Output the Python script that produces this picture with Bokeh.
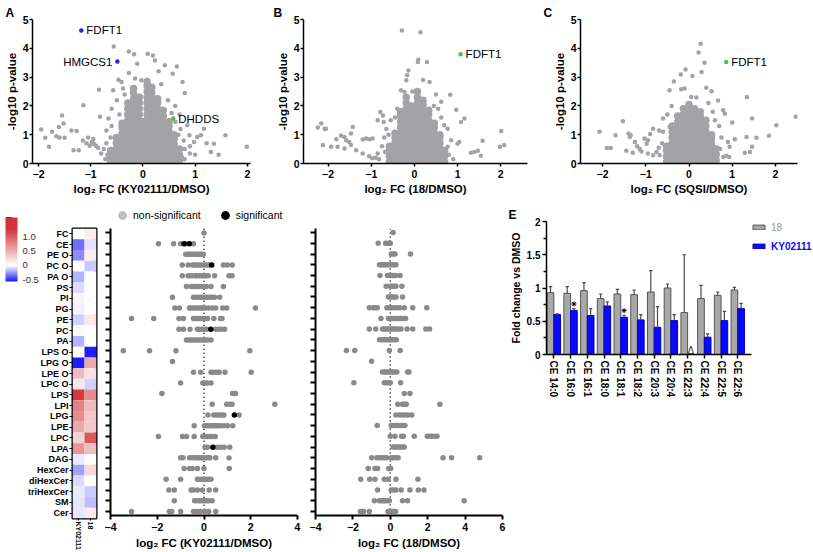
from bokeh.plotting import figure
from bokeh.models import (Range1d, FixedTicker, Legend, LegendItem, ColorBar, Title,
                          LinearColorMapper, FactorRange, ColumnDataSource,
                          CustomJSTickFormatter)
from bokeh.layouts import row, column
from bokeh.transform import dodge, transform
from bokeh.embed import file_html
from bokeh.resources import INLINE
from bokeh.core.properties import value

NAN = float("nan")

# ---------------- DATA ----------------
A_core = [
    (-0.62, [0.05, 0.25, 0.45]),
    (-0.51, [0.1, 0.3, 0.5, 0.7, 0.9]),
    (-0.40, [0.05, 0.25, 0.45, 0.65, 0.85, 1.05, 1.25, 1.4]),
    (-0.29, [0.1, 0.3, 0.5, 0.7, 0.9, 1.1, 1.3, 1.5, 1.7, 1.9, 2.1]),
    (-0.18, [0.05, 0.25, 0.45, 0.65, 0.85, 1.05, 1.25, 1.45, 1.65, 1.85, 2.05, 2.25, 2.45, 2.6]),
    (-0.07, [0.1, 0.3, 0.5, 0.7, 0.9, 1.1, 1.3, 1.5, 1.7, 1.9, 2.1, 2.3]),
    (0.01, [0.05, 0.25, 0.45, 0.65, 0.85, 1.05, 1.25, 1.45]),
    (0.08, [0.1, 0.3, 0.5, 0.7, 0.9, 1.1, 1.3, 1.5, 1.7, 1.9, 2.1, 2.3, 2.5, 2.7, 2.85]),
    (0.17, [0.05, 0.25, 0.45, 0.65, 0.85, 1.05, 1.25, 1.45, 1.65, 1.85, 2.05, 2.25, 2.45, 2.65]),
    (0.28, [0.1, 0.3, 0.5, 0.7, 0.9, 1.1, 1.3, 1.5, 1.7, 1.9, 2.1, 2.25]),
    (0.39, [0.05, 0.25, 0.45, 0.65, 0.85, 1.05, 1.25, 1.45, 1.65, 1.85]),
    (0.50, [0.1, 0.3, 0.5, 0.7, 0.9, 1.1, 1.3, 1.45]),
    (0.60, [0.05, 0.25, 0.45, 0.65, 0.85, 1.0]),
    (0.70, [0.1, 0.3, 0.5]),
]
A_out_x = [-1.95, -1.87, -1.8, -1.74, -1.66, -1.61, -1.55, -1.52, -1.6, -1.5, -1.37, -1.27, -1.33, -1.23,
           -1.14, -1.15, -1.08, -1.02, -0.98, -0.94, -0.9, -0.86, -0.95, -1.05, -0.84, -0.82, -0.7, -0.66,
           -0.75, -0.8, -0.7, -0.68, -0.62, -0.6, -0.57, -0.56, -0.6, -0.5, -0.47, -0.41, -0.45, -0.35,
           -0.27, -0.27, -0.17, -0.11, -0.15, -0.03, -0.38, -0.72, -0.66,
           0.09, 0.19, 0.23, 0.42, 0.65, 0.57, 0.76, 0.8, 0.3, 0.35, 0.48, 0.62, 0.7, 0.72, 0.85, 0.89,
           0.98, 1.04, 1.11, 1.17, 1.3, 1.36, 1.58, 1.99, 0.8, 0.9, 1.0, 0.78, 0.68, 0.75, 1.22, 1.45,
           0.62, 0.55, 0.8, 0.9]
A_out_y = [1.18, 0.89, 0.58, 1.1, 0.95, 1.27, 1.67, 1.39, 0.9, 0.89, 1.15, 1.13, 0.46, 0.46,
           2.02, 0.8, 0.7, 0.62, 0.75, 0.68, 0.62, 0.55, 0.85, 0.9, 2.56, 1.62, 1.15, 1.56,
           0.5, 0.35, 0.7, 0.3, 0.9, 1.3, 2.54, 4.06, 1.9, 2.2, 2.91, 2.83, 1.7, 2.4,
           3.89, 3.14, 3.79, 3.46, 2.95, 2.89, 2.6, 0.15, 0.2,
           3.81, 3.75, 3.58, 3.41, 3.37, 3.12, 2.83, 2.45, 3.2, 2.75, 2.2, 2.0, 1.7, 1.2, 1.33, 0.98,
           0.75, 0.92, 0.98, 1.21, 0.4, 0.69, 0.98, 0.58, 0.5, 0.35, 0.3, 0.8, 1.0, 0.2, 0.7, 0.3,
           1.45, 1.75, 0.15, 0.6]
A_hl_x = [-1.18, -0.49, 0.58]
A_hl_y = [4.62, 3.54, 1.56]
A_hl_name = ["FDFT1", "HMGCS1", "DHDDS"]
A_hl_color = ["#1F1FFF", "#1F1FFF", "#4CC04C"]
A_hl_side = ["right", "left", "right"]

B_core = [
    (-0.58, [0.05, 0.25, 0.45, 0.6]),
    (-0.45, [0.1, 0.3, 0.5, 0.7, 0.9, 1.05]),
    (-0.32, [0.05, 0.25, 0.45, 0.65, 0.85, 1.05, 1.25, 1.45, 1.65, 1.8]),
    (-0.19, [0.1, 0.3, 0.5, 0.7, 0.9, 1.1, 1.3, 1.5, 1.7, 1.9, 2.1, 2.3]),
    (-0.06, [0.05, 0.25, 0.45, 0.65, 0.85, 1.05, 1.25, 1.45, 1.65, 1.85, 2.0]),
    (0.07, [0.1, 0.3, 0.5, 0.7, 0.9, 1.1, 1.3, 1.5, 1.7, 1.9, 2.1, 2.3, 2.5]),
    (0.20, [0.05, 0.25, 0.45, 0.65, 0.85, 1.05, 1.25, 1.45, 1.65, 1.85, 2.05, 2.2]),
    (0.33, [0.1, 0.3, 0.5, 0.7, 0.9, 1.1, 1.3, 1.5, 1.7, 1.85]),
    (0.46, [0.05, 0.25, 0.45, 0.65, 0.85, 1.05, 1.25, 1.4]),
    (0.59, [0.1, 0.3, 0.5, 0.7, 0.9, 1.0]),
    (0.70, [0.05, 0.25, 0.45]),
]
B_out_x = [-0.29, 0.14, 0.09, 0.08, 0.29, -0.14, -0.17, -0.19, 0.35, -0.31, -0.23, 0.83, 0.97, 1.16,
           1.08, 2.01, 2.08, 1.98, 1.58, 1.39, 1.47, 1.31, 1.54, 1.04, 1.0, 0.85, 0.77,
           -2.24, -2.16, -2.08, -2.05, -2.12, -1.93, -1.81, -1.7, -1.62, -1.58, -1.43, -1.47, -1.51,
           -1.78, -1.62, -1.47, -1.35, -1.2, -1.12, -1.04, -0.97, -1.2, -1.05, -0.98, -0.9, -0.82,
           -0.85, -0.85, -0.79, -0.73, -0.71, -0.65, -0.7, -0.75, -0.68, -0.6, -0.55, -0.45, -0.4,
           0.55, 0.62, 0.69, 0.77, 0.62, 0.45, 0.8, 0.9, 0.2, -0.05, 0.5]
B_out_y = [4.62, 4.56, 3.6, 3.52, 3.52, 3.23, 3.06, 2.89, 2.83, 2.54, 2.48, 2.39, 1.87, 1.56,
           1.44, 1.13, 0.64, 0.58, 0.79, 0.4, 0.44, 0.37, 0.27, 0.75, 0.69, 0.81, 0.58,
           1.25, 1.39, 1.21, 1.21, 0.64, 0.58, 0.84, 0.96, 0.92, 0.81, 1.27, 1.04, 0.75,
           0.58, 0.52, 0.64, 0.46, 0.83, 0.87, 0.84, 0.87, 0.35, 0.25, 0.18, 0.2, 0.15,
           0.35, 1.5, 1.79, 1.67, 1.44, 1.2, 0.9, 0.6, 0.4, 1.0, 1.5, 1.6, 1.9,
           1.9, 1.6, 1.33, 1.21, 2.14, 2.0, 0.3, 0.15, 2.9, 2.5, 2.4]
B_hl_x = [1.07]
B_hl_y = [3.79]
B_hl_name = ["FDFT1"]
B_hl_color = ["#4CC04C"]
B_hl_side = ["right"]

C_core = [
    (-0.52, [0.05, 0.25, 0.45, 0.6]),
    (-0.39, [0.1, 0.3, 0.5, 0.7, 0.9, 1.1, 1.3]),
    (-0.26, [0.05, 0.25, 0.45, 0.65, 0.85, 1.05, 1.25, 1.45, 1.65]),
    (-0.13, [0.1, 0.3, 0.5, 0.7, 0.9, 1.1, 1.3, 1.5, 1.7, 1.9]),
    (0.0, [0.05, 0.25, 0.45, 0.65, 0.85, 1.05, 1.25, 1.45, 1.65, 1.85, 2.05]),
    (0.13, [0.1, 0.3, 0.5, 0.7, 0.9, 1.1, 1.3, 1.5, 1.7, 1.9]),
    (0.26, [0.05, 0.25, 0.45, 0.65, 0.85, 1.05, 1.25, 1.45, 1.65, 1.8]),
    (0.39, [0.1, 0.3, 0.5, 0.7, 0.9, 1.1, 1.3, 1.5]),
    (0.52, [0.05, 0.25, 0.45, 0.65, 0.85, 1.0]),
    (0.63, [0.1, 0.3, 0.5]),
]
C_out_x = [0.27, 0.22, 0.36, -0.08, -0.19, 0.08, 0.29, -0.35, -0.45, -0.18, -0.1, 0.4, 0.52, 0.05,
           0.17, 0.67, 1.34, 0.79, 0.83, 1.46, 1.0, 2.47, 2.02, 1.85, 1.56, 1.33, 1.06, 1.46, 1.29,
           1.41, 0.9, 0.94, 0.86, 0.93, 0.79,
           -2.07, -1.9, -1.81, -1.7, -1.53, -1.4, -1.35, -1.37, -1.45, -1.3, -1.25, -1.2, -1.14,
           -1.1, -1.03, -0.95, -0.98, -0.95, -0.83, -0.75, -0.68, -0.9, -0.83, -0.69, -0.6, -0.6,
           -0.45, -0.37, -0.62, -0.7, 0.7, 0.75, 0.72, 0.6, 0.55, -0.5, -0.4, 0.45]
C_out_y = [4.16, 3.85, 3.5, 3.26, 3.09, 3.04, 3.18, 2.85, 2.54, 2.58, 2.6, 2.63, 2.51, 2.31,
           2.29, 2.19, 2.31, 1.85, 1.73, 1.56, 1.42, 1.62, 1.33, 0.96, 0.89, 0.92, 0.84, 0.58, 0.37,
           0.4, 0.75, 0.58, 0.27, 0.23, 0.23,
           1.1, 0.54, 0.54, 0.98, 1.47, 1.04, 0.98, 0.92, 0.44, 0.37, 0.75, 0.6, 0.5,
           0.42, 0.87, 0.81, 0.69, 0.35, 0.29, 0.4, 0.29, 1.02, 1.21, 1.15, 1.1, 1.56,
           1.27, 1.21, 0.7, 0.55, 1.3, 0.9, 0.5, 1.5, 1.8, 1.7, 2.0, 2.1]
C_hl_x = [0.86]
C_hl_y = [3.52]
C_hl_name = ["FDFT1"]
C_hl_color = ["#4CC04C"]
C_hl_side = ["right"]

classes = ["FC", "CE", "PE O", "PC O", "PA O", "PS", "PI", "PG", "PE", "PC", "PA",
           "LPS O", "LPG O", "LPE O", "LPC O", "LPS", "LPI", "LPG", "LPE", "LPC", "LPA",
           "DAG", "HexCer", "diHexCer", "triHexCer", "SM", "Cer"]
heat_cols = ["KY02111", "18"]
heat_ky = [0.0, -0.35, -0.28, 0.0, -0.18, -0.085, 0.06, -0.03, -0.11, 0.05, -0.18, 0.0, -0.55, 0.44,
           0.15, 1.25, 0.79, 0.73, 0.54, 0.29, 0.67, -0.05, -0.23, -0.1, -0.05, -0.06, -0.06]
heat_18 = [0.12, -0.07, 0.1, -0.13, 0.0, 0.0, 0.02, 0.0, 0.16, 0.03, 0.0, -0.55, 0.54, 0.2,
           -0.11, 0.73, 0.44, 0.35, 0.35, 1.05, 0.41, 0.03, 0.25, 0.0, -0.13, -0.16, 0.13]

ky_nonsig = [
    [0.0],
    [-1.95, -1.3, -1.0, -0.75, -0.45],
    [-0.78, -0.7, -0.62, -0.55, -0.48, -0.4, -0.33, -0.25, -0.18, -0.1, -0.03],
    [-0.93, -0.68, -0.5, -0.42, -0.35, -0.25, -0.15, -0.05, 0.05, 0.15, 0.25, 0.83, 1.0, 1.21],
    [-0.93, -0.68, -0.6, -0.5, -0.38, -0.3, -0.2, -0.1, 0.0, 0.08, 0.18, 0.45, 1.07, 1.2],
    [-0.75, -0.55, -0.48, -0.4, -0.3, -0.2, -0.1, 0.0, 0.1, 0.3, 0.83],
    [-1.35, -0.45, -0.35, -0.25, -0.15, -0.05, 0.05, 0.15, 0.25, 0.35, 0.45, 0.67],
    [-1.25, -1.05, -0.62, -0.55, -0.45, -0.35, -0.25, -0.15, -0.05, 0.05, 0.2, 0.35, 0.5, 0.8, 0.97, 2.2],
    [-3.1, -2.15, -1.07, -0.88, -0.45, -0.38, -0.3, -0.22, -0.15, -0.05, 0.05, 0.15, 0.42, 0.7, 0.77],
    [-1.07, -0.88, -0.6, -0.28, -0.2, -0.1, 0.0, 0.1, 0.5, 0.62, 0.72, 0.88],
    [-0.75, -0.65, -0.55, -0.45, -0.35, -0.25, -0.15, -0.05, 0.05, 0.15, 0.3],
    [-3.45, -2.33, -1.2, 1.96],
    [-1.35],
    [-0.45, -0.14, 0.3, 0.4, 0.52, 0.65, 0.9, 2.02],
    [-1.0, -0.05, 0.05, 0.15, 0.3],
    [-1.8, 1.22, 1.28, 1.35],
    [0.35, 0.97, 1.1, 1.2, 3.03],
    [0.17, 0.42, 0.52, 0.65, 0.75, 0.85, 1.5],
    [-0.42, 0.02, 0.1, 0.2, 0.3, 0.4, 0.5, 0.6, 0.7, 0.85, 1.0, 1.23],
    [-1.95, -0.92, -0.75, -0.42, -0.05, 0.05, 0.15, 0.25, 0.35, 0.48],
    [0.05, 0.15, 0.55, 0.7, 0.86, 1.1],
    [-1.0, -0.9, -0.62, -0.5, -0.38, -0.28, -0.2, -0.12, -0.05, 0.05, 0.15, 0.25, 0.5, 1.07],
    [-0.85, -0.62, -0.5, -0.28, 0.0, 1.08],
    [-1.62, -1.0, -0.28, -0.2, -0.1, 0.0, 0.1, 0.2, 0.3],
    [-1.5, -1.27, -0.55, -0.45, -0.28, -0.07, 0.22, 0.5],
    [-1.27, -0.4, -0.3, -0.2, -0.1, 0.0, 0.1, 0.2, 0.35],
    [-3.1, -1.48, -1.38, -1.0, -0.45, -0.35, -0.25, -0.15, 0.05, 0.2, 0.5],
]
ky_sig = [[], [-0.85, -0.62], [], [0.33], [], [], [], [], [], [0.29], [], [], [], [], [], [], [],
          [1.3], [], [], [0.38], [], [], [], [], [], []]

t18_nonsig = [
    [0.15],
    [-0.65, -0.25, -0.15, -0.05, 0.0],
    [0.05, 0.15, 0.25, 1.08],
    [-0.58, -0.5, -0.4, -0.3, -0.2, -0.1, 0.0, 0.1, 0.2, 0.3],
    [-0.55, -0.15, -0.05, 0.05, 0.15, 0.28, 0.52],
    [-0.22, 0.0, 0.1, 0.2, 0.3, 0.62],
    [-0.1, 0.0, 0.1, 0.2, 0.3, 0.65],
    [-1.12, -0.92, -0.8, -0.7, -0.18, -0.05, 0.05, 0.2, 0.35, 0.5, 0.75, 1.2, 1.95],
    [-0.5, -0.1, 0.0, 0.1, 0.2, 0.3, 0.4, 0.5, 0.6, 0.7, 0.82],
    [-1.12, -0.78, -0.42, -0.32, -0.22, -0.12, 0.0, 0.1, 0.2, 0.3, 0.45, 0.57, 0.9, 1.2, 1.9, 2.1],
    [-0.58, -0.48, -0.38, -0.28, -0.18, -0.08, 0.02, 0.12, 0.22, 0.32],
    [-2.35, -1.9, -0.05, 0.53],
    [-1.0],
    [-0.42, -0.3, -0.2, -0.08, 0.02, 0.12, 0.22, 0.35, 0.93, 1.0],
    [-1.95, -0.32, -0.2, -0.1, 0.0, 0.55],
    [0.75, 1.05],
    [0.4, 0.65, 0.75, 0.85, 2.65],
    [0.3, 0.5, 0.65, 0.8, 0.95, 1.15],
    [-0.7, 0.05, 0.15, 0.25, 0.35, 0.45, 0.55, 0.65, 0.78],
    [0.0, 0.25, 0.6, 0.7, 1.28, 1.98, 2.1, 2.2, 2.35, 2.5],
    [0.15, 0.25, 0.35, 0.45, 0.55, 0.65, 0.75],
    [-1.0, -0.72, -0.58, -0.45, -0.32, -0.2, 0.05, 0.15, 0.3, 0.42, 2.82, 3.28, 4.78],
    [-1.18, -0.82, -0.68, -0.08, 0.02],
    [-1.58, -1.1, -0.82, -0.32, -0.12, 0.3, 1.48],
    [-0.68, 0.05, 0.18, 0.3, 0.58, 1.05, 1.5, 1.8],
    [-0.85, -0.58, -0.48, -0.38, -0.28, -0.18, -0.05, 0.65, 0.92, 3.95],
    [-1.6, -1.5, -1.42, -1.12, -0.12, -0.02, 0.08, 0.18, 0.28],
]
t18_sig = [[] for _ in classes]

ce_species = ["CE 14:0", "CE 16:0", "CE 16:1", "CE 18:0", "CE 18:1", "CE 18:2",
              "CE 20:3", "CE 20:4", "CE 22:3", "CE 22:4", "CE 22:5", "CE 22:6"]
fc_18 = [0.93, 0.92, 0.96, 0.84, 0.91, 0.90, 0.94, 1.00, 0.63, 0.84, 0.89, 0.97]
fc_18_hi = [1.02, 1.02, 1.08, 0.91, 0.98, 0.97, 1.26, 1.06, 1.50, 1.04, 0.94, 1.01]
fc_ky = [0.60, 0.66, 0.585, 0.73, 0.56, 0.52, 0.41, 0.51, NAN, 0.26, 0.51, 0.69]
fc_ky_hi = [0.61, 0.69, 0.69, 0.79, 0.59, 0.60, 0.72, 0.60, NAN, 0.31, 0.65, 0.77]
star_idx = [1, 4]
star_y = [0.76, 0.66]
delta_idx = [8]
delta_y = [0.06]

# ---------------- STYLE ----------------
FONT = "Liberation Sans"
VGRAY = "#A3A3A7"
DGRAY = "#8A8A8A"


def style_axes(p, lab="10px", ttl="11px", lw=1.5, tick_out=3, standoff=2, title_standoff=3):
    for ax in p.axis:
        ax.axis_line_color = "black"
        ax.axis_line_width = lw
        ax.major_tick_line_color = "black"
        ax.major_tick_line_width = lw
        ax.major_tick_in = 0
        ax.major_tick_out = tick_out
        ax.minor_tick_line_color = None
        ax.major_label_text_font = FONT
        ax.major_label_text_font_style = "bold"
        ax.major_label_text_font_size = lab
        ax.major_label_text_color = "black"
        ax.major_label_standoff = standoff
        ax.axis_label_text_font = FONT
        ax.axis_label_text_font_style = "bold"
        ax.axis_label_text_font_size = ttl
        ax.axis_label_text_color = "black"
        ax.axis_label_standoff = title_standoff


def letter(p, text, offset):
    p.add_layout(Title(text=text, align="left", offset=offset, standoff=0,
                       text_font=FONT, text_font_style="bold", text_font_size="12px",
                       text_color="black"), "above")


def volcano(let, w, bl, br, xr, core, ox, oy, hx, hy, hn, hc, hs, xlabel, let_dx):
    p = figure(width=w, height=205, x_range=Range1d(*xr), y_range=Range1d(0, 5),
               min_border_left=bl, min_border_right=br, min_border_top=19, min_border_bottom=42,
               output_backend="svg", toolbar_location=None, frame_align=False)
    p.grid.grid_line_color = None
    p.outline_line_color = None
    cx = [x for x, ys in core for _ in ys]
    cy = [y for _, ys in core for y in ys]
    p.scatter(cx, cy, size=7.5, fill_color=VGRAY, line_color=None)
    p.scatter(ox, oy, size=4.5, fill_color=VGRAY, line_color=None)
    src = ColumnDataSource(dict(x=hx, y=hy, t=hn, c=hc,
                                a=["left" if s == "right" else "right" for s in hs],
                                off=[5 if s == "right" else -5 for s in hs]))
    p.scatter("x", "y", size=4.5, fill_color="c", line_color=None, source=src)
    p.text("x", "y", text="t", text_align="a", x_offset="off", text_baseline="middle",
           text_font=value(FONT), text_font_size="11.5px", text_color="black", source=src)
    p.xaxis.ticker = FixedTicker(ticks=[-2, -1, 0, 1, 2])
    p.yaxis.ticker = FixedTicker(ticks=[0, 1, 2, 3, 4, 5])
    p.xaxis.axis_label = xlabel
    p.yaxis.axis_label = "-log10 p-value"
    style_axes(p, lab="10.5px", ttl="11.5px", standoff=3, title_standoff=2)
    p.yaxis.major_label_standoff = 1
    letter(p, let, let_dx)
    return p


pA = volcano("A", 270, 32, 20, (-2.115, 2.06), A_core, A_out_x, A_out_y, A_hl_x, A_hl_y,
             A_hl_name, A_hl_color, A_hl_side, "log\u2082 FC (KY02111/DMSO)", -27)
pB = volcano("B", 270, 33, 13, (-2.57, 2.62), B_core, B_out_x, B_out_y, B_hl_x, B_hl_y,
             B_hl_name, B_hl_color, B_hl_side, "log\u2082 FC (18/DMSO)", -30)
pC = volcano("C", 273, 40, 16, (-2.51, 2.51), C_core, C_out_x, C_out_y, C_hl_x, C_hl_y,
             C_hl_name, C_hl_color, C_hl_side, "log\u2082 FC (SQSI/DMSO)", -37)

# ---------- Heatmap ----------
LOW, HIGH = -0.57, 1.70
BLUE, WHITE, RED = (20, 20, 255), (255, 255, 255), (208, 50, 55)


def lerp(c1, c2, t):
    return "#%02x%02x%02x" % tuple(int(round(a + (b - a) * t)) for a, b in zip(c1, c2))


palette = []
for k in range(256):
    v = LOW + (HIGH - LOW) * (k + 0.5) / 256
    palette.append(lerp(WHITE, BLUE, min(1.0, v / LOW)) if v < 0 else lerp(WHITE, RED, min(1.0, v / 1.3)))
mapper = LinearColorMapper(palette=palette, low=LOW, high=HIGH)

BH = 347  # bottom row height
hm_src = ColumnDataSource(dict(
    col=[heat_cols[0]] * len(classes) + [heat_cols[1]] * len(classes),
    cls=classes + classes,
    v=heat_ky + heat_18))
hm = figure(width=103, height=BH, x_range=FactorRange(*heat_cols),
            y_range=FactorRange(*classes[::-1]),
            min_border_left=72, min_border_right=7, min_border_top=23, min_border_bottom=33,
            output_backend="svg", toolbar_location=None, frame_align=False)
hm.rect("col", "cls", width=1, height=1, source=hm_src,
        fill_color=transform("v", mapper), line_color=None)
hm.grid.grid_line_color = None
hm.outline_line_color = "black"
hm.outline_line_width = 2
style_axes(hm, lab="9px", lw=1.2, tick_out=3, standoff=1)
hm.xaxis.axis_line_color = None
hm.yaxis.axis_line_color = None
hm.xaxis.major_label_orientation = "vertical"
hm.xaxis.major_label_text_font_size = "7px"
hm.xaxis.major_tick_out = 2
cb = ColorBar(color_mapper=mapper, location=(-67, 237), width=12, height=64, padding=0,
              ticker=FixedTicker(ticks=[-0.5, 0, 0.5, 1.0]),
              formatter=CustomJSTickFormatter(code="return tick == 0 ? '0' : tick.toFixed(1);"),
              major_tick_line_color=None, label_standoff=5,
              major_label_text_font_size="9.5px", major_label_text_font=FONT,
              major_label_text_color="#333333",
              bar_line_color=None, border_line_color=None, background_fill_color=None)
hm.add_layout(cb, "center")
letter(hm, "D", -67)

# ---------- Dot plots ----------
Y_LO, Y_HI = -0.38, 26.38


def dotplot(w, bl, br, top_extra, xr, ticks, nonsig, sig, xlabel):
    p = figure(width=w, height=BH, x_range=Range1d(*xr),
               y_range=Range1d(Y_HI, Y_LO - top_extra),
               min_border_left=bl, min_border_right=br,
               min_border_top=23 - round(top_extra * 10.54), min_border_bottom=37,
               output_backend="svg", toolbar_location=None, frame_align=False)
    p.grid.grid_line_color = None
    p.outline_line_color = None
    nx = [x for row_vals in nonsig for x in row_vals]
    ny = [i for i, row_vals in enumerate(nonsig) for _ in row_vals]
    sx = [x for row_vals in sig for x in row_vals]
    sy = [i for i, row_vals in enumerate(sig) for _ in row_vals]
    p.segment(x0=[0], y0=[Y_LO], x1=[0], y1=[Y_HI], line_color="black", line_width=1.5,
              line_dash="1 3")
    p.scatter(nx, ny, size=5.5, fill_color=DGRAY, line_color=None)
    p.scatter(sx, sy, size=5.5, fill_color="black", line_color=None)
    p.xaxis.ticker = FixedTicker(ticks=ticks)
    p.yaxis.ticker = FixedTicker(ticks=list(range(len(classes))))
    p.yaxis.major_label_overrides = {i: "" for i in range(len(classes))}
    p.yaxis.bounds = (Y_LO, Y_HI)
    p.xaxis.axis_label = xlabel
    style_axes(p, lab="10.5px", ttl="11.5px", lw=2, tick_out=4, standoff=3, title_standoff=3)
    p.yaxis.major_tick_out = 5
    p.yaxis.major_label_standoff = 0
    return p


pD1 = dotplot(198, 7, 4, 1.9, (-4, 4), [-4, -2, 0, 2, 4], ky_nonsig, ky_sig,
              "log\u2082 FC (KY02111/DMSO)")
pD2 = dotplot(205, 14, 4, 0.0, (-4, 6), [-4, -2, 0, 2, 4, 6], t18_nonsig, t18_sig,
              "log\u2082 FC (18/DMSO)")
r_ns = pD1.scatter([NAN], [NAN], size=9, fill_color="#BEBEBE", line_color=None)
r_s = pD1.scatter([NAN], [NAN], size=9, fill_color="black", line_color=None)
leg = Legend(items=[LegendItem(label="non-significant", renderers=[r_ns]),
                    LegendItem(label="significant", renderers=[r_s])],
             orientation="horizontal", location=(1, 289), glyph_width=22, glyph_height=22,
             label_standoff=0, spacing=13, padding=0, margin=0, border_line_color=None,
             background_fill_alpha=0, label_text_font=FONT, label_text_font_size="10.5px",
             label_text_color="black")
pD1.add_layout(leg, "center")

# ---------- Bar chart E ----------
E_X0, E_X1 = -0.44, 11.8
e_src = ColumnDataSource(dict(idx=list(range(len(ce_species))), g=fc_18, gh=fc_18_hi,
                              b=fc_ky, bh=fc_ky_hi))
pE = figure(width=307, height=BH, x_range=Range1d(E_X0, E_X1 + 3.73), y_range=Range1d(0, 2),
            min_border_left=37, min_border_right=0, min_border_top=11, min_border_bottom=198,
            output_backend="svg", toolbar_location=None, frame_align=False)
pE.grid.grid_line_color = None
pE.outline_line_color = None
rg = pE.vbar(x=dodge("idx", -0.2), top="g", width=0.4, source=e_src,
             fill_color="#A8A8A8", line_color="#555555", line_width=1)
rb = pE.vbar(x=dodge("idx", 0.2), top="b", width=0.4, source=e_src,
             fill_color="#0A0AF5", line_color="#0000C8", line_width=1)
for off, lo, hi in ((-0.2, "g", "gh"), (0.2, "b", "bh")):
    pE.segment(x0=dodge("idx", off), y0=lo, x1=dodge("idx", off), y1=hi, source=e_src,
               line_color="#4A4A4A", line_width=1.2)
    pE.segment(x0=dodge("idx", off - 0.1), y0=hi, x1=dodge("idx", off + 0.1), y1=hi,
               source=e_src, line_color="#4A4A4A", line_width=1.2)
pE.scatter(x=dodge("i", 0.2), y="y", marker="asterisk", size=5, line_color="black", line_width=1,
           source=ColumnDataSource(dict(i=star_idx, y=star_y)))
pE.text(x=dodge("i", 0.2), y="y", text=value("\u0394"), text_align="center", text_baseline="middle",
        text_font=value(FONT), text_font_size="10px", text_color="#333333",
        source=ColumnDataSource(dict(i=delta_idx, y=delta_y)))
pE.xaxis.ticker = FixedTicker(ticks=list(range(len(ce_species))))
pE.xaxis.major_label_overrides = {i: s for i, s in enumerate(ce_species)}
pE.xaxis.bounds = (E_X0, E_X1)
pE.yaxis.ticker = FixedTicker(ticks=[0, 0.5, 1.0, 1.5, 2.0], minor_ticks=[0.25, 0.75, 1.25, 1.75])
pE.yaxis.axis_label = "Fold change vs DMSO"
style_axes(pE, lab="10px", ttl="10.5px", lw=1.5, tick_out=4, standoff=2, title_standoff=2)
pE.yaxis.minor_tick_line_color = "black"
pE.yaxis.minor_tick_line_width = 1.5
pE.yaxis.minor_tick_in = 0
pE.yaxis.minor_tick_out = 3
pE.xaxis.major_label_orientation = "vertical"
leg1 = Legend(items=[LegendItem(label="18", renderers=[rg])], location=(205, 120),
              glyph_width=15, glyph_height=6, label_height=14, label_standoff=5, padding=0,
              margin=0, border_line_color=None, background_fill_alpha=0,
              label_text_font=FONT, label_text_font_size="10px", label_text_color="#999999")
leg2 = Legend(items=[LegendItem(label="KY02111", renderers=[rb])], location=(205, 101),
              glyph_width=15, glyph_height=6, label_height=14, label_standoff=5, padding=0,
              margin=0, border_line_color=None, background_fill_alpha=0,
              label_text_font=FONT, label_text_font_size="10px", label_text_font_style="bold",
              label_text_color="#0A0AF5")
pE.add_layout(leg1, "center")
pE.add_layout(leg2, "center")
letter(pE, "E", -38)

layout = column(row(pA, pB, pC), row(hm, pD1, pD2, pE))
open("out.html", "w").write(file_html(layout, INLINE))
